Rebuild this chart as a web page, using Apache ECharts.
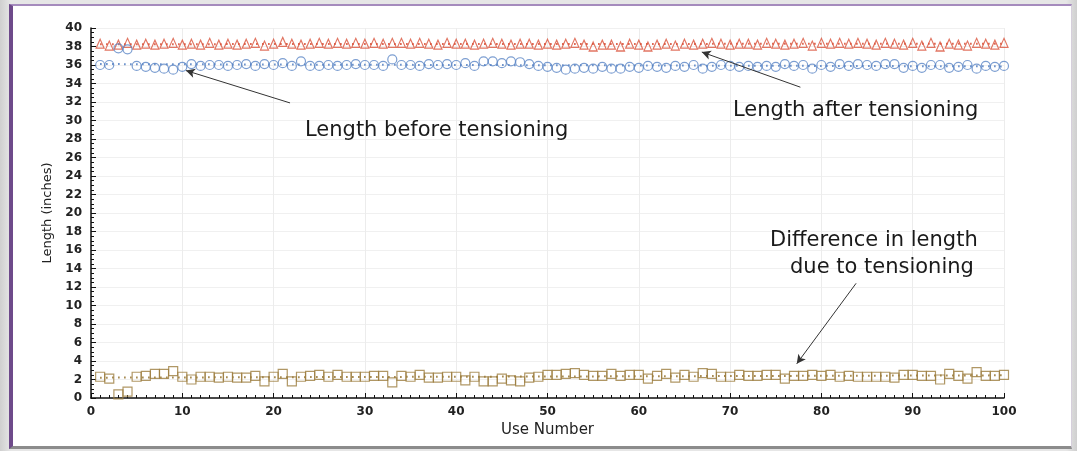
<!DOCTYPE html>
<html>
<head>
<meta charset="utf-8">
<script src="https://cdn.jsdelivr.net/npm/echarts@6/dist/echarts.min.js"></script>
<style>
  html, body { margin: 0; padding: 0; }
  body {
    width: 1077px; height: 451px; overflow: hidden; position: relative;
    background: linear-gradient(90deg, #cfcfcf 0%, #e6e6e6 1%, #e6e6e6 99%, #cfcfcf 100%);
  }
  #frame {
    position: absolute; left: 9px; top: 4px; width: 1058px; height: 440px;
    background: #fff;
    border-left: 4px solid #6e4a8a;
    border-top: 2px solid #a58bbd;
    border-right: 1px solid #d6cfdc;
    border-bottom: 3px solid #8c8c8c;
  }
  #chart { position: absolute; left: 0; top: 0; width: 1077px; height: 451px; }
</style>
</head>
<body>
<div id="frame"></div>
<div id="chart"></div>
<script>
// use number 1..100
const uses = Array.from({ length: 100 }, (_, i) => i + 1)

const lengthAfter = [
  38.3, 38.1, 38.2, 38.4, 38.2, 38.3, 38.2, 38.3, 38.4, 38.2,
  38.3, 38.2, 38.4, 38.2, 38.3, 38.2, 38.3, 38.4, 38.1, 38.3,
  38.5, 38.3, 38.2, 38.3, 38.4, 38.3, 38.4, 38.3, 38.4, 38.3,
  38.4, 38.3, 38.4, 38.4, 38.3, 38.4, 38.3, 38.2, 38.4, 38.3,
  38.3, 38.2, 38.3, 38.4, 38.3, 38.2, 38.3, 38.3, 38.2, 38.3,
  38.2, 38.3, 38.4, 38.2, 38.0, 38.2, 38.2, 38.0, 38.3, 38.2,
  38.0, 38.2, 38.3, 38.1, 38.3, 38.2, 38.3, 38.4, 38.3, 38.2,
  38.3, 38.3, 38.2, 38.4, 38.3, 38.2, 38.3, 38.4, 38.1, 38.4,
  38.3, 38.4, 38.3, 38.4, 38.3, 38.2, 38.4, 38.3, 38.2, 38.4,
  38.1, 38.4, 38.0, 38.3, 38.2, 38.1, 38.4, 38.3, 38.2, 38.4
]

const lengthBefore = [
  36.0, 36.0, 37.8, 37.7, 35.9, 35.8, 35.7, 35.6, 35.5, 35.8,
  36.1, 35.9, 36.0, 36.0, 35.9, 36.0, 36.1, 35.9, 36.1, 36.0,
  36.2, 35.9, 36.4, 35.9, 35.9, 36.0, 35.9, 36.0, 36.1, 36.0,
  36.0, 35.9, 36.6, 36.0, 36.0, 35.9, 36.1, 36.0, 36.1, 36.0,
  36.2, 35.9, 36.4, 36.4, 36.2, 36.4, 36.3, 36.1, 35.9, 35.8,
  35.7, 35.5, 35.6, 35.7, 35.6, 35.8, 35.6, 35.6, 35.8, 35.7,
  35.9, 35.8, 35.7, 35.9, 35.8, 36.0, 35.6, 35.8, 36.0, 35.9,
  35.8, 35.9, 35.8, 35.9, 35.8, 36.1, 35.9, 36.0, 35.6, 36.0,
  35.8, 36.1, 35.9, 36.1, 36.0, 35.9, 36.1, 36.1, 35.7, 35.9,
  35.7, 36.0, 36.0, 35.7, 35.8, 36.0, 35.6, 35.9, 35.8, 35.9
]

const lengthDiff = [
  2.3, 2.1, 0.4, 0.7, 2.3, 2.4, 2.6, 2.6, 2.9, 2.3,
  2.0, 2.3, 2.3, 2.2, 2.3, 2.2, 2.2, 2.4, 1.8, 2.3,
  2.6, 1.8, 2.3, 2.4, 2.5, 2.3, 2.5, 2.3, 2.3, 2.3,
  2.4, 2.4, 1.7, 2.4, 2.3, 2.5, 2.2, 2.2, 2.3, 2.3,
  1.9, 2.3, 1.8, 1.8, 2.1, 1.9, 1.8, 2.2, 2.3, 2.5,
  2.5, 2.6, 2.7, 2.5, 2.4, 2.4, 2.6, 2.4, 2.5, 2.5,
  2.1, 2.4, 2.6, 2.2, 2.5, 2.3, 2.7, 2.6, 2.3, 2.3,
  2.5, 2.4, 2.4, 2.5, 2.5, 2.1, 2.4, 2.4, 2.5, 2.4,
  2.5, 2.3, 2.4, 2.3, 2.3, 2.3, 2.3, 2.2, 2.5, 2.5,
  2.4, 2.4, 2.0, 2.6, 2.4, 2.1, 2.8, 2.4, 2.4, 2.5
]

// dotted trend lines [use, length]
const trendAfter = [[1, 38.25], [100, 38.3]]
const trendBefore = [[1, 36.1], [100, 35.85]]
const trendDiff = [[1, 2.2], [100, 2.45]]

const xTicks = [0, 10, 20, 30, 40, 50, 60, 70, 80, 90, 100]
const yTicks = [0, 2, 4, 6, 8, 10, 12, 14, 16, 18, 20, 22, 24, 26, 28, 30, 32, 34, 36, 38, 40]

const RED = '#d9533b'
const BLUE = '#5b86c6'
const TAN = '#9c7d3e'

const pairs = vals => uses.map((u, i) => [u, vals[i]])

const markerSeries = (name, vals, symbol, color) => ({
  name,
  type: 'scatter',
  data: pairs(vals),
  symbol,
  symbolSize: symbol === 'triangle' ? [8, 9] : 9,
  itemStyle: { color: 'rgba(255,255,255,0)', borderColor: color, borderWidth: 1.2 },
  z: 3
})

const trendSeries = (data, color) => ({
  type: 'line',
  data,
  showSymbol: false,
  symbol: 'none',
  lineStyle: { color, width: 2, type: [1.5, 4.5] },
  z: 2
})

const chartDom = document.getElementById('chart')
const myChart = echarts.init(chartDom, null, { renderer: 'canvas' })

const labelFont = { fontFamily: 'DejaVu Sans', fontWeight: 'bold', fontSize: 12, color: '#222' }
const noteStyle = { fontSize: 21, fontFamily: 'DejaVu Sans', fill: '#1a1a1a', verticalAlign: 'middle' }

const option = {
  animation: false,
  grid: { left: 91, right: 73, top: 28, bottom: 53 },
  xAxis: {
    type: 'value',
    min: xTicks[0],
    max: xTicks[xTicks.length - 1],
    interval: 10,
    name: 'Use Number',
    nameLocation: 'middle',
    nameGap: 25,
    nameTextStyle: { fontFamily: 'DejaVu Sans', fontSize: 15, color: '#222' },
    axisLine: { lineStyle: { color: '#111', width: 1.5 } },
    axisTick: { inside: true, length: 5, lineStyle: { color: '#111' } },
    minorTick: { show: true, splitNumber: 10, length: 3, lineStyle: { color: '#111' } },
    axisLabel: Object.assign({ margin: 8 }, labelFont),
    splitLine: { show: true, lineStyle: { color: '#ececec' } }
  },
  yAxis: {
    type: 'value',
    min: yTicks[0],
    max: yTicks[yTicks.length - 1],
    interval: 2,
    name: 'Length (inches)',
    nameLocation: 'middle',
    nameGap: 37,
    nameTextStyle: { fontFamily: 'DejaVu Sans', fontSize: 13, color: '#222' },
    axisLine: { show: true, lineStyle: { color: '#111', width: 1.5 } },
    axisTick: { show: true, inside: true, length: 5, lineStyle: { color: '#111' } },
    minorTick: { show: true, splitNumber: 4, length: 3, lineStyle: { color: '#111' } },
    axisLabel: Object.assign({ margin: 9 }, labelFont),
    splitLine: { show: true, lineStyle: { color: '#f0f0f0' } }
  },
  series: [
    trendSeries(trendAfter, RED),
    trendSeries(trendBefore, BLUE),
    trendSeries(trendDiff, TAN),
    markerSeries('Length after tensioning', lengthAfter, 'triangle', RED),
    markerSeries('Length before tensioning', lengthBefore, 'circle', BLUE),
    markerSeries('Difference in length', lengthDiff, 'rect', TAN),
    {
      // annotation arrows
      type: 'line',
      data: [],
      silent: true,
      markLine: {
        silent: true,
        symbol: ['none', 'arrow'],
        symbolSize: [7, 9],
        label: { show: false },
        lineStyle: { color: '#333', width: 1, type: 'solid' },
        data: [
          [{ coord: [21.8, 31.9] }, { coord: [10.4, 35.4] }],
          [{ coord: [77.7, 33.6] }, { coord: [66.9, 37.4] }],
          [{ coord: [83.8, 12.4] }, { coord: [77.3, 3.7] }]
        ]
      }
    }
  ],
  graphic: [
    { type: 'text', z: 100, x: 305, y: 131, style: Object.assign({ text: 'Length before tensioning' }, noteStyle) },
    { type: 'text', z: 100, x: 733, y: 111, style: Object.assign({ text: 'Length after tensioning' }, noteStyle) },
    { type: 'text', z: 100, x: 770, y: 241, style: Object.assign({ text: 'Difference in length' }, noteStyle) },
    { type: 'text', z: 100, x: 790, y: 268, style: Object.assign({ text: 'due to tensioning' }, noteStyle) }
  ]
}

myChart.setOption(option)
</script>
</body>
</html>
